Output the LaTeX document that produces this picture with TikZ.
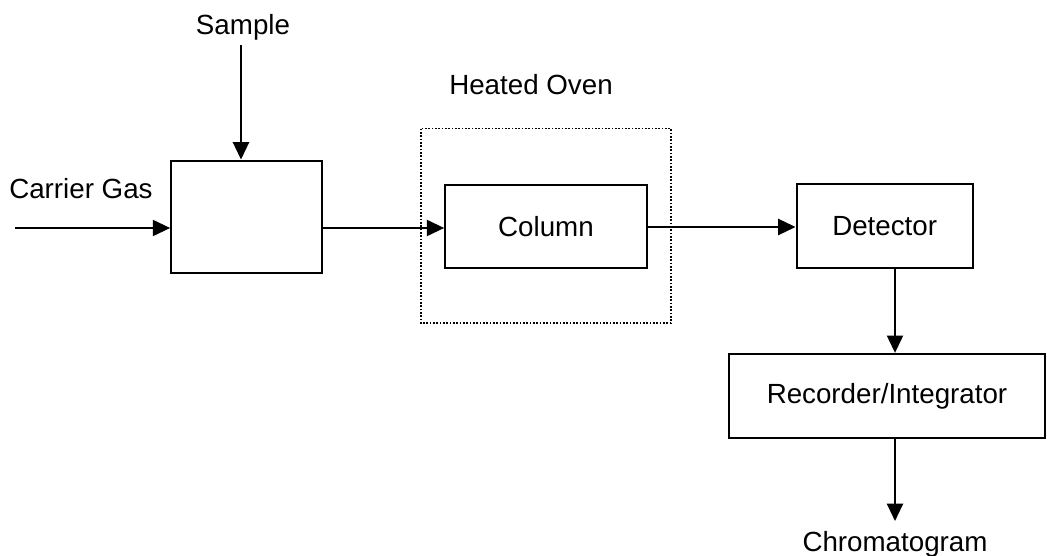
\documentclass[tikz,border=0pt]{standalone}
\usepackage{fontspec}
\setmainfont{Liberation Sans}
\usetikzlibrary{arrows.meta}
\begin{document}
\begin{tikzpicture}[x=0.75pt,y=-0.75pt,
  font=\fontsize{20.8pt}{24pt}\selectfont,
  blk/.style={draw, line width=1.7pt, inner sep=0pt},
  lbl/.style={inner sep=0pt, anchor=base},
  flow/.style={line width=1.6pt, -{Triangle[length=13pt,width=12pt]}},
  ovenbox/.style={draw, line width=1.2pt, dash pattern=on 1.2pt off 1.3pt}]
\useasboundingbox (0,0) rectangle (1047,556);
% oven
\draw[ovenbox] (420.7,128.7) rectangle (671,323);
% blocks
\node[blk, minimum width={151*0.75pt}, minimum height={112*0.75pt}] (inj) at (246.8,216.7) {};
\node[blk, minimum width={201.4*0.75pt}, minimum height={83.3*0.75pt}] (col) at (546,226.3) {Column};
\node[blk, minimum width={176*0.75pt}, minimum height={84*0.75pt}] (det) at (884.7,226) {Detector};
\node[blk, minimum width={316*0.75pt}, minimum height={84*0.75pt}] (rec) at (887,396) {Recorder/Integrator};
% labels
\node[lbl] (sample) at (243,35) {Sample};
\node[lbl, anchor=base west] (carrier) at (9,199) {Carrier Gas};
\node[lbl] (oven) at (531,95) {Heated Oven};
\node[lbl] (chrom) at (895,551) {Chromatogram};
% connectors
\coordinate (cgstart) at (15,228);
\coordinate (samp) at (241,45);
\draw[flow] (cgstart) -- (inj.west |- cgstart);
\draw[flow] (samp) -- (inj.north -| samp);
\draw[flow] (inj.east |- cgstart) -- (col.west |- cgstart);
\draw[flow] (col.east |- 0,227) -- (det.west |- 0,227);
\draw[flow] (det.south -| 895,0) -- (rec.north -| 895,0);
\draw[flow] (rec.south -| 895,0) -- (895,521);
\end{tikzpicture}
\end{document}
